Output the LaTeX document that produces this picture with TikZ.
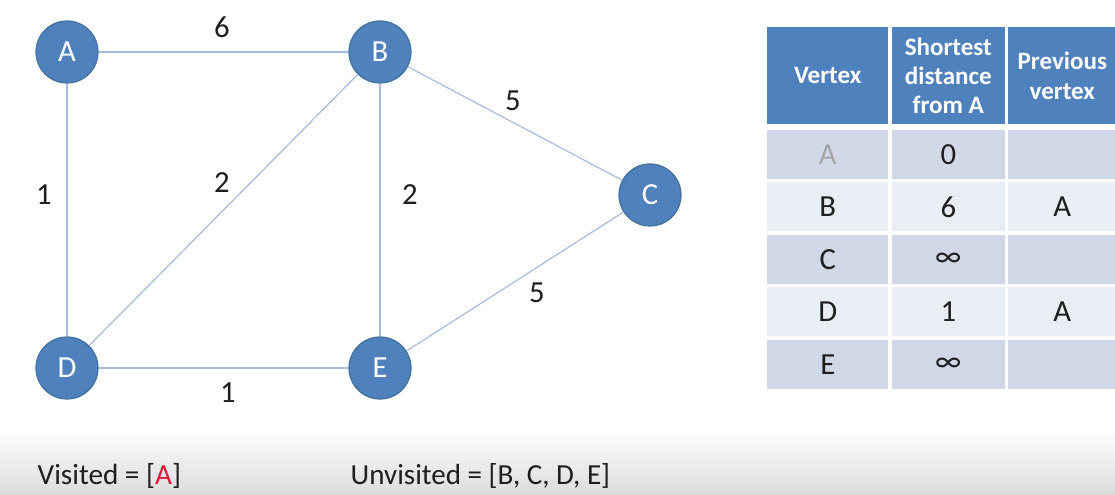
\documentclass[tikz,border=0pt]{standalone}
\usepackage{fontspec}
\setmainfont{Carlito}
\usepackage{xcolor}
\usetikzlibrary{positioning}
\definecolor{vblue}{HTML}{4F81BD}
\definecolor{vborder}{HTML}{41719C}
\definecolor{eblue}{HTML}{A7BCDD}
\definecolor{rowdark}{HTML}{D0D8E8}
\definecolor{rowlight}{HTML}{E9EDF4}
\definecolor{ink}{HTML}{1E1E1E}
\definecolor{visitred}{HTML}{E3163C}
\tikzstyle{vertex}=[circle,fill=vblue,draw=vborder,line width=0.9pt,minimum size=46.5pt,inner sep=0pt,text=white,font=\fontsize{23}{27}\selectfont]
\tikzstyle{edge}=[eblue,line width=0.9pt]
\tikzstyle{weight}=[text=ink,font=\fontsize{23}{27}\selectfont]
\tikzstyle{head}=[rectangle,fill=vblue,text=white,inner sep=0pt,minimum height=72.75pt,align=center,font=\bfseries\fontsize{18.8}{22}\selectfont]
\tikzstyle{cell}=[rectangle,inner sep=0pt,minimum height=36.75pt,text=ink,font=\fontsize{23}{27}\selectfont]
\tikzstyle{row_0}=[fill=rowdark]
\tikzstyle{row_1}=[fill=rowlight]
\tikzstyle{col_0}=[minimum width=90.75pt]
\tikzstyle{col_1}=[minimum width=84.75pt]
\tikzstyle{col_2}=[minimum width=81pt]

\begin{document}
\begin{tikzpicture}[x=0.75pt,y=-0.75pt]
    \useasboundingbox[fill=white] (0,0) rectangle (1115,495);
    \shade[top color=white,bottom color=black!14] (0,428) rectangle (1115,495);

    % graph
    \node (A) [vertex] at (67,52) {A};
    \node (B) [vertex] at (380,52) {B};
    \node (C) [vertex] at (650,195) {C};
    \node (D) [vertex] at (67,368) {D};
    \node (E) [vertex] at (380,368) {E};
    \draw[edge] (A) -- (B);
    \draw[edge] (A) -- (D);
    \draw[edge] (B) -- (D);
    \draw[edge] (B) -- (E);
    \draw[edge] (B) -- (C);
    \draw[edge] (D) -- (E);
    \draw[edge] (E) -- (C);
    \node (wab) [weight] at (222,27) {6};
    \node (wad) [weight] at (44,195) {1};
    \node (wbd) [weight] at (222,183) {2};
    \node (wbe) [weight] at (410,195) {2};
    \node (wbc) [weight] at (513,101) {5};
    \node (wec) [weight] at (537,293) {5};
    \node (wde) [weight] at (228,393) {1};

    % table
    \node (h0) [head, col_0, anchor=north west] at (767,27) {Vertex};
    \node (h1) [head, col_1, right=2.25pt of h0] {Shortest\\distance\\from A};
    \node (h2) [head, col_2, right=2.25pt of h1] {Previous\\vertex};

\node (a0) [below=3.75pt of h0, cell, col_0, row_0, text=black!35]{A};
\node (a1) [below=3.75pt of h1, cell, col_1, row_0]{0};
\node (a2) [below=3.75pt of h2, cell, col_2, row_0]{};
\node (b0) [below=2.25pt of a0, cell, col_0, row_1]{B};
\node (b1) [below=2.25pt of a1, cell, col_1, row_1]{6};
\node (b2) [below=2.25pt of a2, cell, col_2, row_1]{A};
\node (c0) [below=2.25pt of b0, cell, col_0, row_0]{C};
\node (c1) [below=2.25pt of b1, cell, col_1, row_0]{∞};
\node (c2) [below=2.25pt of b2, cell, col_2, row_0]{};
\node (d0) [below=2.25pt of c0, cell, col_0, row_1]{D};
\node (d1) [below=2.25pt of c1, cell, col_1, row_1]{1};
\node (d2) [below=2.25pt of c2, cell, col_2, row_1]{A};
\node (e0) [below=2.25pt of d0, cell, col_0, row_0]{E};
\node (e1) [below=2.25pt of d1, cell, col_1, row_0]{∞};
\node (e2) [below=2.25pt of d2, cell, col_2, row_0]{};

    % visited lists
    \node (vis) [anchor=west, text=ink, font=\fontsize{21.9}{26}\selectfont] at (33,476) {Visited = [\textcolor{visitred}{A}]};
    \node (unvis) [anchor=west, text=ink, font=\fontsize{21.8}{26}\selectfont] at (346,476) {Unvisited = [B, C, D, E]};
\end{tikzpicture}
\end{document}
